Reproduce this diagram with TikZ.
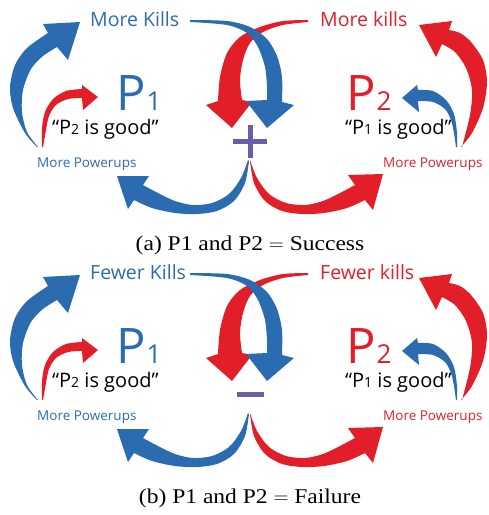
\documentclass[tikz,border=0pt]{standalone}
\usepackage{fontspec}
\setmainfont{Open Sans}
\newfontfamily\capfont[FakeStretch=1.12]{Liberation Serif}

\definecolor{loopblue}{RGB}{43,108,176}
\definecolor{loopred}{RGB}{226,30,40}
\definecolor{signpurple}{RGB}{105,94,168}

% tapered arrow: colour, outer edge (tail to head), wing, tip, wing, inner edge (head to tail)
\newcommand{\fatarrow}[6]{%
  \fill[#1] plot[smooth] coordinates {#2} -- #3 -- #4 -- #5 -- plot[smooth] coordinates {#6} -- cycle;}

\begin{document}
\begin{tikzpicture}[x=1pt,y=-1pt,
    killtext/.style={font=\fontsize{19.5}{20}\selectfont, anchor=base west, inner sep=0},
    playertext/.style={font=\fontsize{49}{49}\selectfont, anchor=base west, inner sep=0},
    quotetext/.style={font=\fontsize{20}{20}\selectfont, anchor=base west, inner sep=0},
    pwrtext/.style={font=\fontsize{13.5}{14}\selectfont, anchor=base west, inner sep=0},
    captext/.style={font=\capfont\fontsize{21}{22}\selectfont, anchor=base, inner sep=0}]
	\useasboundingbox (0,0) rectangle (489,515);

	\foreach \dy/\word/\tag/\result/\hw/\vh in {0/More/a/Success/17/16.5, 253/Fewer/b/Failure/13.5/0} {
	\begin{scope}[shift={(0,\dy)}]
		\node[killtext, text=loopblue] (kb\tag) at (90,26) {\word{} Kills};
		\node[killtext, text=loopred] (kr\tag) at (320,26) {\word{} kills};
		\node[playertext, text=loopblue] (pa\tag) at (116,110) {P\kern1pt{\fontsize{26}{26}\selectfont 1}};
		\node[playertext, text=loopred] (pb\tag) at (346,110) {P\kern1pt{\fontsize{26}{26}\selectfont 2}};
		\node[quotetext] (qa\tag) at (52,134) {“P{\fontsize{14}{14}\selectfont 2} is good”};
		\node[quotetext] (qb\tag) at (345,134) {“P{\fontsize{14}{14}\selectfont 1} is good”};
		\node[pwrtext, text=loopblue] (ua\tag) at (37,167) {More Powerups};
		\node[pwrtext, text=loopred] (ub\tag) at (383,167) {More Powerups};
		\node[captext] (cap\tag) at (250,250) {(\tag) P1 and P2 $=$ \result};

		% left side
		\fatarrow{loopblue}{(37,147) (25,133) (13,108) (10,87) (15,65) (27,48) (48,33)}
			{(43,24)}{(80,22)}{(68,60)}{(57,47) (43,56) (31,69) (23,90) (22,112) (27,132) (38,147)}
		\fatarrow{loopred}{(42,147) (42,128) (45,112) (53,99) (66,91) (82,89)}
			{(82,85)}{(98,97)}{(83,110)}{(82,98) (68,99) (56,105) (49,116) (46,130) (43,147)}
		% right side
		\fatarrow{loopred}{(461,147) (472,133) (483,108) (487,82) (483,60) (471,42) (460,33) (449,30)}
			{(452,21)}{(419,25)}{(436,57)}{(442,44) (455,52) (466,68) (472,90) (470,115) (462,147)}
		\fatarrow{loopblue}{(457,147) (457,133) (454,114) (446,100) (433,91) (418,90)}
			{(417,85)}{(402,98)}{(419,112)}{(418,101) (433,102) (445,109) (451,120) (454,133) (456,147)}
		% middle
		\fatarrow{loopred}{(308,20) (283,21) (260,27) (240,37) (227,53) (220,77) (218,101)}
			{(206,105)}{(232,128)}{(252,102)}{(242,100) (240,80) (243,60) (250,43) (263,32) (283,25) (308,22)}
		\fatarrow{loopblue}{(190,20) (227,21) (250,27) (267,39) (277,56) (282,77) (282,102)}
			{(294,105)}{(267,128)}{(246,101)}{(267,100) (267,87) (265,67) (258,47) (247,33) (227,25) (190,22)}
		% bottom
		\fatarrow{loopblue}{(248,160) (241,178) (229,194) (212,203) (193,205) (175,201) (158,193) (143,185)}
			{(149,176)}{(117,176)}{(128,209)}{(134,200) (152,208) (175,213) (197,214) (217,211) (234,201) (245,183) (249,161)}
		\fatarrow{loopred}{(250,160) (257,178) (269,194) (286,203) (305,205) (323,201) (340,193) (355,185)}
			{(348,175)}{(383,174)}{(373,210)}{(365,200) (347,208) (324,213) (302,214) (282,211) (265,201) (254,183) (250,161)}

		% sign
		\draw[signpurple, line width=5.5] (250-\hw,141.5) -- (250+\hw,141.5);
		\ifdim\vh pt>0pt
			\draw[signpurple, line width=5] (250,141.5-\vh) -- (250,141.5+\vh);
		\fi
	\end{scope}
	}
\end{tikzpicture}
\end{document}
